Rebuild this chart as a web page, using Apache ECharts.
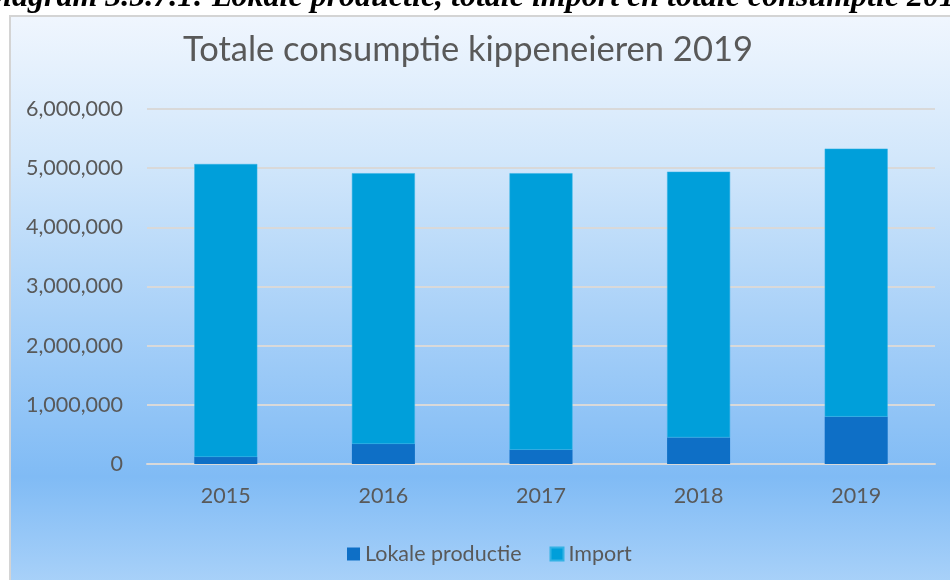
<!DOCTYPE html>
<html>
<head>
<meta charset="utf-8">
<script src="https://cdn.jsdelivr.net/npm/echarts@6/dist/echarts.min.js"></script>
<style>
html,body{margin:0;padding:0;background:#fff;}
#c{width:950px;height:580px;}
</style>
</head>
<body>
<div id="c"></div>
<script>
const categories = ['2015', '2016', '2017', '2018', '2019'];
const lokaleProductie = [120000, 340000, 240000, 450000, 800000];
const importValues = [4950000, 4575000, 4675000, 4490000, 4530000];
const yTicks = { min: 0, max: 6000000, interval: 1000000 };
const titleText = 'Totale consumptie kippeneieren 2019';
const captionText = 'Diagram 3.5.7.1: Lokale productie, totale import en totale consumptie 2019';

const font = 'Lato, "Noto Sans", sans-serif';
const chart = echarts.init(document.getElementById('c'), null, { renderer: 'canvas' });
chart.setOption({
  backgroundColor: '#ffffff',
  animation: false,
  graphic: [
    {
      type: 'rect', z: -10, silent: true,
      shape: { x: 10, y: 16, width: 945, height: 575 },
      style: {
        fill: new echarts.graphic.LinearGradient(0, 0, 0, 1, [
          { offset: 0, color: '#f0f6fe' },
          { offset: 0.25, color: '#d2e7fb' },
          { offset: 0.8, color: '#80bbf5' },
          { offset: 1, color: '#acd3f9' }
        ]),
        stroke: '#d4d4d4', lineWidth: 2
      }
    },
    {
      type: 'text', z: 10, silent: true,
      left: -20, top: -18,
      style: {
        text: captionText,
        font: 'italic bold 32px "Liberation Serif", "DejaVu Serif", serif',
        fill: '#000000'
      }
    }
  ],
  title: {
    text: titleText,
    left: 178, top: 27,
    textStyle: { fontFamily: font, fontWeight: 'normal', fontSize: 34.5, color: '#595959' }
  },
  legend: {
    left: 342, top: 538,
    itemWidth: 13, itemHeight: 13, itemGap: 28,
    icon: 'rect',
    textStyle: { fontFamily: font, fontSize: 21.5, color: '#595959' },
    data: ['Lokale productie', 'Import']
  },
  grid: { left: 147, right: 15, top: 109, bottom: 116 },
  xAxis: {
    type: 'category',
    data: categories,
    axisLine: { show: true, lineStyle: { color: '#d9d9d9', width: 2 } },
    axisTick: { show: false },
    axisLabel: { margin: 21, fontFamily: font, fontSize: 21.5, color: '#595959' }
  },
  yAxis: {
    type: 'value',
    min: yTicks.min, max: yTicks.max, interval: yTicks.interval,
    axisLine: { show: false },
    axisTick: { show: false },
    axisLabel: {
      margin: 24, fontFamily: font, fontSize: 21.5, color: '#595959',
      formatter: v => v.toString().replace(/\B(?=(\d{3})+(?!\d))/g, ',')
    },
    splitLine: { lineStyle: { color: '#d9d9d9', width: 2 } }
  },
  series: [
    {
      name: 'Lokale productie', type: 'bar', stack: 'total',
      data: lokaleProductie, barWidth: 63,
      itemStyle: { color: '#0e6fc6' }
    },
    {
      name: 'Import', type: 'bar', stack: 'total',
      data: importValues, barWidth: 63,
      itemStyle: { color: '#009fda', borderColor: '#33b2e4', borderWidth: 0.5 }
    }
  ]
});
</script>
</body>
</html>
